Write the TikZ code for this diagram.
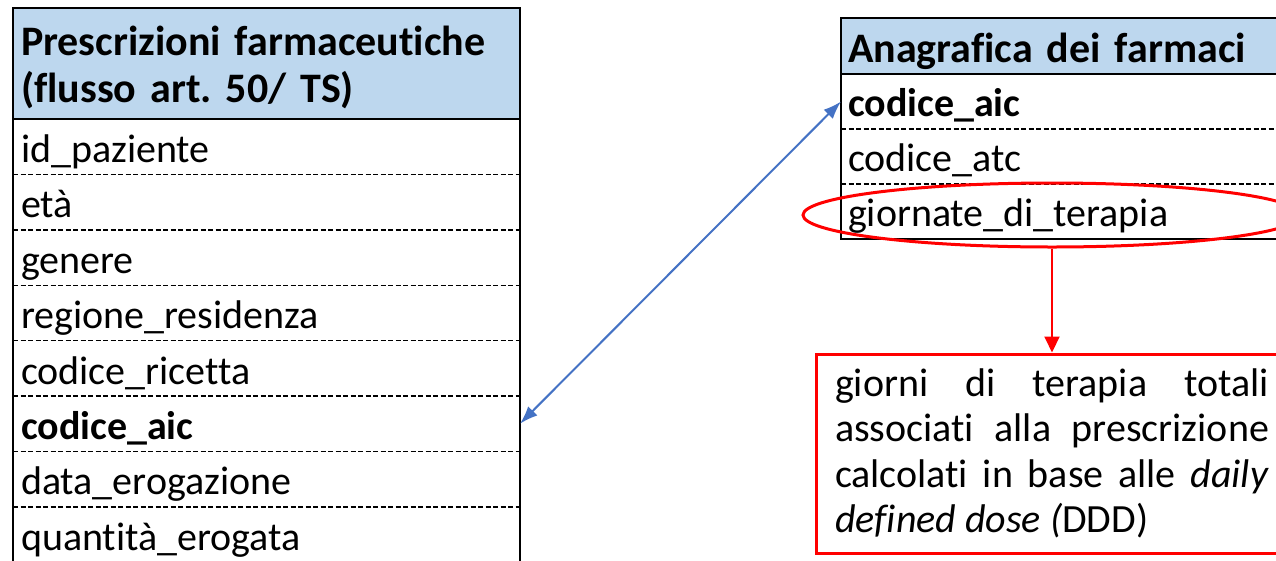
\documentclass[tikz,border=0pt]{standalone}
\usepackage{fontspec}
\setmainfont[Ligatures=NoCommon]{Carlito}
\usepackage{xcolor}
\usetikzlibrary{arrows.meta,positioning,shapes.geometric}
\definecolor{hdrblue}{HTML}{BDD7EE}
\definecolor{linkblue}{HTML}{4472C4}
\definecolor{notered}{HTML}{FF0000}
\newcommand{\cellfont}{\fontsize{40}{45.5}\selectfont}
\newcommand{\headfont}{\fontsize{42}{47}\selectfont\bfseries}

\begin{document}
\begin{tikzpicture}[x=1pt,y=-1pt,
    >={Latex[length=18pt,width=13pt]},
    frame/.style={draw=black,line width=2.6pt},
    sepline/.style={draw=black,line width=1.4pt,dash pattern=on 5pt off 2.5pt},
    headline/.style={draw=black,line width=2pt},
    lhead/.style={fill=hdrblue,font=\headfont,align=left,text width=491pt,
      inner xsep=8pt,inner ysep=0pt,outer sep=0pt,text height=47pt,text depth=64pt},
    lcell/.style={font=\cellfont,align=left,text width=491pt,inner xsep=8pt,
      inner ysep=0pt,outer sep=0pt,text height=43.4pt,text depth=12pt},
    rhead/.style={fill=hdrblue,font=\headfont,align=left,text width=435pt,
      inner xsep=7pt,inner ysep=0pt,outer sep=0pt,text height=44pt,text depth=12pt},
    rcell/.style={font=\cellfont,align=left,text width=435pt,inner xsep=7pt,
      inner ysep=0pt,outer sep=0pt,text height=42pt,text depth=13pt},
    hilite/.style={ellipse,draw=notered,line width=3pt,minimum width=498pt,minimum height=64pt},
    notebox/.style={draw=notered,line width=3pt,font=\cellfont,align=justify,text width=434pt,
      inner xsep=19pt,inner ysep=0pt,minimum height=199pt},
    link/.style={<->,draw=linkblue,line width=2pt},
    callout/.style={->,>={Triangle[length=16pt,width=15pt]},draw=notered,line width=2pt}
  ]
    \clip (0,0) rectangle (1276,560);
    % left table
    \node[lhead,anchor=north west] (prescr) at (13,8) {Prescrizioni farmaceutiche\\(flusso art.~50/ TS)};
    \node[lcell,below=0pt of prescr] (idpaz) {id\_paziente};
    \node[lcell,below=0pt of idpaz] (eta) {età};
    \node[lcell,below=0pt of eta] (genere) {genere};
    \node[lcell,below=0pt of genere] (regres) {regione\_residenza};
    \node[lcell,below=0pt of regres] (codric) {codice\_ricetta};
    \node[lcell,below=0pt of codric] (aicleft) {\textbf{codice\_aic}};
    \node[lcell,below=0pt of aicleft] (dataerog) {data\_erogazione};
    \node[lcell,below=0pt of dataerog] (quanterog) {quantità\_erogata};
    \draw[headline] (prescr.south west) -- (prescr.south east);
    \draw[sepline] (idpaz.south west) -- (idpaz.south east);
    \draw[sepline] (eta.south west) -- (eta.south east);
    \draw[sepline] (genere.south west) -- (genere.south east);
    \draw[sepline] (regres.south west) -- (regres.south east);
    \draw[sepline] (codric.south west) -- (codric.south east);
    \draw[sepline] (aicleft.south west) -- (aicleft.south east);
    \draw[sepline] (dataerog.south west) -- (dataerog.south east);
    \draw[frame] (prescr.north west) rectangle (quanterog.south east);
    % right table
    \node[rhead,anchor=north west] (anagr) at (841,18) {Anagrafica dei farmaci};
    \node[rcell,below=0pt of anagr] (aicright) {\textbf{codice\_aic}};
    \node[rcell,below=0pt of aicright] (atc) {codice\_atc};
    \node[rcell,below=0pt of atc] (giornate) {giornate\_di\_terapia};
    \draw[headline] (anagr.south west) -- (anagr.south east);
    \draw[sepline] (aicright.south west) -- (aicright.south east);
    \draw[sepline] (atc.south west) -- (atc.south east);
    \draw[frame] (anagr.north west) rectangle (giornate.south east);
    % highlight and note
    \node[hilite] (ovale) at (1052,215) {};
    \node[notebox,below=104pt of ovale] (nota) {giorni di terapia totali\linebreak
      associati alla prescrizione\linebreak calcolati in base alle \textit{daily}\linebreak
      \textit{defined dose (}DDD)};
    \draw[link] (aicleft.east) -- (aicright.west);
    \draw[callout] (ovale.south) -- (nota.north);
  \end{tikzpicture}
\end{document}
